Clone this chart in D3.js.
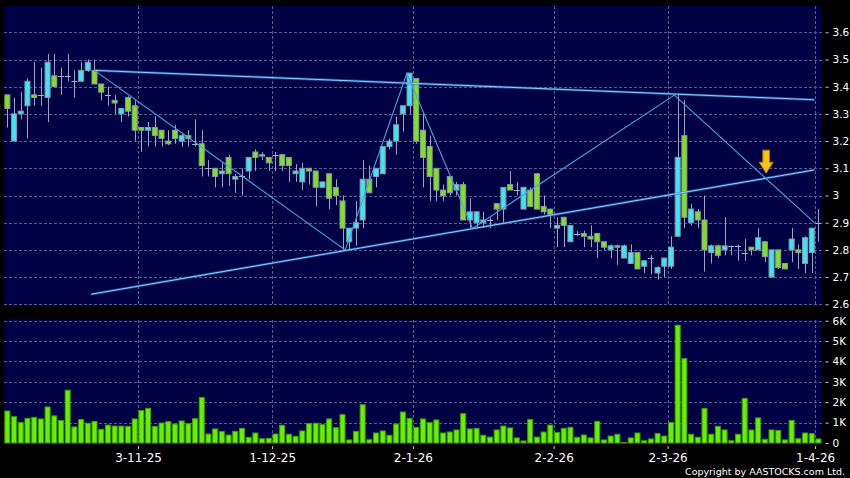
<!DOCTYPE html>
<html lang="en">
<head>
<meta charset="utf-8">
<script src="https://d3js.org/d3.v7.min.js"></script>
<style>
  *{margin:0;padding:0}
  body{background:#000;width:850px;height:478px;overflow:hidden}
  svg{display:block}
  .grid line{stroke:#5e5e8e;stroke-dasharray:3,2;shape-rendering:crispEdges}
  .axis text{fill:#fff;font-family:"DejaVu Sans",sans-serif}
  .axis line{stroke:#ccc}
  .axis path{display:none}
</style>
</head>
<body>
<script>
// daily candles, index 0 = first trading day shown
const opens = [3.37,3.20,3.30,3.33,3.37,3.37,3.36,3.44,3.44,3.44,3.42,3.42,3.46,3.46,3.41,3.37,3.35,3.30,3.36,3.33,
  3.25,3.24,3.25,3.24,3.20,3.24,3.20,3.22,3.19,3.19,3.10,3.10,3.08,3.14,3.06,3.07,3.09,3.16,3.145,3.14,
  3.15,3.15,3.14,3.08,3.05,3.10,3.09,3.03,3.08,3.03,2.98,2.83,2.88,2.91,3.06,3.07,3.08,3.18,3.20,3.30,
  3.33,3.43,3.24,3.18,3.10,3.02,3.07,3.02,3.04,2.91,2.90,2.90,2.91,2.97,2.95,3.04,3.02,2.95,3.02,3.08,
  2.96,2.95,2.88,2.92,2.83,2.86,2.86,2.85,2.86,2.83,2.80,2.815,2.77,2.75,2.79,2.74,2.77,2.715,2.74,2.74,
  2.85,3.22,2.90,2.94,2.91,2.79,2.815,2.80,2.815,2.815,2.79,2.81,2.80,2.83,2.70,2.80,2.75,2.80,2.80,2.75,
  2.79,2.90];
const highs = [3.37,3.36,3.38,3.43,3.49,3.47,3.52,3.52,3.47,3.52,3.46,3.49,3.50,3.50,3.41,3.40,3.37,3.32,3.365,3.35,
  3.25,3.27,3.29,3.24,3.24,3.26,3.23,3.24,3.28,3.24,3.13,3.10,3.12,3.15,3.08,3.10,3.14,3.17,3.16,3.14,
  3.16,3.15,3.14,3.115,3.12,3.10,3.09,3.05,3.08,3.06,3.00,2.88,2.98,3.13,3.11,3.10,3.18,3.21,3.29,3.33,
  3.45,3.43,3.30,3.22,3.10,3.04,3.07,3.05,3.05,2.99,2.94,2.94,2.92,2.97,3.03,3.09,3.05,3.03,3.03,3.08,
  3.00,2.95,2.92,2.92,2.89,2.87,2.87,2.89,2.86,2.83,2.82,2.82,2.82,2.82,2.79,2.76,2.78,2.74,2.77,2.85,
  3.37,3.35,2.97,2.95,3.00,2.82,2.82,2.92,2.815,2.82,2.84,2.81,2.88,2.83,2.80,2.80,2.75,2.88,2.82,2.85,
  2.88,2.95];
const lows = [3.25,3.20,3.28,3.21,3.33,3.33,3.27,3.40,3.37,3.42,3.36,3.42,3.455,3.41,3.35,3.33,3.30,3.27,3.29,3.20,
  3.16,3.18,3.18,3.18,3.185,3.19,3.18,3.18,3.18,3.07,3.07,3.03,3.03,3.035,3.01,3.00,3.06,3.09,3.13,3.09,
  3.09,3.09,3.05,3.05,3.02,3.04,2.96,3.03,2.95,2.965,2.80,2.80,2.815,2.88,3.01,3.03,3.08,3.17,3.15,3.235,
  3.30,3.19,3.03,2.98,2.98,2.98,3.00,3.00,2.91,2.88,2.88,2.88,2.88,2.91,2.90,3.02,3.00,2.95,2.96,2.95,
  2.93,2.88,2.81,2.81,2.83,2.85,2.81,2.81,2.77,2.80,2.77,2.745,2.77,2.75,2.73,2.715,2.71,2.69,2.70,2.73,
  2.85,2.88,2.89,2.88,2.72,2.75,2.77,2.78,2.78,2.76,2.76,2.78,2.80,2.755,2.70,2.73,2.73,2.755,2.73,2.715,
  2.715,2.83];
const closes = [3.32,3.30,3.31,3.42,3.36,3.37,3.49,3.40,3.44,3.44,3.42,3.46,3.49,3.41,3.38,3.37,3.34,3.32,3.31,3.24,
  3.24,3.25,3.22,3.21,3.19,3.21,3.22,3.21,3.19,3.11,3.10,3.07,3.09,3.08,3.07,3.07,3.14,3.14,3.15,3.12,
  3.15,3.11,3.11,3.09,3.10,3.09,3.03,3.05,2.99,3.00,2.88,2.88,2.90,3.06,3.01,3.10,3.18,3.20,3.26,3.33,
  3.45,3.20,3.14,3.07,3.02,3.00,3.01,3.04,2.91,2.94,2.94,2.91,2.91,2.95,3.03,3.02,3.02,3.03,2.96,2.95,
  2.94,2.93,2.89,2.89,2.89,2.86,2.85,2.84,2.83,2.81,2.815,2.81,2.815,2.79,2.73,2.76,2.77,2.735,2.77,2.81,
  3.14,2.92,2.95,2.91,2.80,2.815,2.78,2.815,2.815,2.815,2.79,2.80,2.845,2.775,2.80,2.735,2.73,2.84,2.79,2.845,
  2.88,2.90];
const volumes = [1570,1290,1010,1210,1260,1180,1770,1330,1100,2590,790,1150,970,1060,670,880,830,830,820,1180,
  1590,1700,820,980,1050,930,1080,950,1190,2230,440,690,560,390,570,720,280,490,210,230,
  440,870,430,330,590,950,970,900,1180,750,1390,150,570,1880,160,490,590,380,930,1520,
  1210,770,1180,1000,1130,490,540,640,1440,690,720,380,290,640,830,740,250,100,1150,290,
  540,880,520,720,770,280,390,250,1060,150,340,430,30,250,490,110,200,470,340,1010,
  5780,4140,430,280,1700,430,820,640,110,430,2190,640,1230,180,640,610,150,1110,210,490,
  460,200];

// month ticks: candle index of first trading day, label
const tickIndex = [20,40,61,82,99,121];
const tickLabels = ["3-11-25","1-12-25","2-1-26","2-2-26","2-3-26","1-4-26"];
const priceTicks = [2.6,2.7,2.8,2.9,3.0,3.1,3.2,3.3,3.4,3.5,3.6];
const volTicks = [0,1000,2000,3000,4000,5000,6000];

// hand drawn lines, [candle index, price]
const upperLine = [[13,3.46],[120.4,3.352]];
const lowerLine = [[12.5,2.637],[120.4,3.094]];
const zigzag = [[13,3.46],[50.4,2.80],[59.6,3.449],[69.4,2.879],[99.5,3.369],[120.4,2.90]];
const arrowAt = [113.2,3.082];

const W=850,H=478;
const left=4,right=821.8;
const pTop=6,pBot=305.5,vTop=319.5,vBot=444;

const svg=d3.select('body').append('svg').attr('width',W).attr('height',H);
svg.append('rect').attr('width',W).attr('height',H).attr('fill','#000');

const idx=d3.range(opens.length);
const x=d3.scaleBand().domain(idx).range([left,right]);
const bw=x.bandwidth();
const xc=d3.scaleLinear().domain([-0.5,opens.length-0.5]).range([left,right]);
const y=d3.scaleLinear().domain([2.6,3.6]).range([304.3,32.3]);
const yv=d3.scaleLinear().domain([0,6000]).range([443,320.7]);

// panels
svg.append('rect').attr('x',left).attr('y',pTop).attr('width',right-left).attr('height',pBot-pTop).attr('fill','#000045');
svg.append('rect').attr('x',left).attr('y',vTop).attr('width',right-left).attr('height',vBot-vTop).attr('fill','#000045');

// grid
const grid=svg.append('g').attr('class','grid');
grid.selectAll('.hp').data(priceTicks).enter().append('line')
  .attr('x1',left).attr('x2',right)
  .attr('y1',d=>Math.round(y(d))+0.5).attr('y2',d=>Math.round(y(d))+0.5);
grid.selectAll('.hv').data(volTicks.slice(1)).enter().append('line')
  .attr('x1',left).attr('x2',right)
  .attr('y1',d=>Math.round(yv(d))+0.5).attr('y2',d=>Math.round(yv(d))+0.5);
grid.selectAll('.vp').data(tickIndex).enter().append('line')
  .attr('x1',d=>Math.round(x(d))+0.5).attr('x2',d=>Math.round(x(d))+0.5)
  .attr('y1',pTop).attr('y2',pBot);
grid.selectAll('.vv').data(tickIndex).enter().append('line')
  .attr('x1',d=>Math.round(x(d))+0.5).attr('x2',d=>Math.round(x(d))+0.5)
  .attr('y1',vTop).attr('y2',vBot);

// candles
const bodyW=5, off=(bw-bodyW)/2;
const candles=svg.append('g');
candles.selectAll('.wick').data(idx).enter().append('line')
  .attr('x1',i=>Math.round(x(i)+bw/2)+0.5).attr('x2',i=>Math.round(x(i)+bw/2)+0.5)
  .attr('y1',i=>y(highs[i])).attr('y2',i=>y(lows[i]))
  .attr('stroke','#a4a4b8').attr('stroke-width',1);
candles.selectAll('.body').data(idx.filter(i=>opens[i]!==closes[i])).enter().append('rect')
  .attr('x',i=>x(i)+off).attr('width',bodyW)
  .attr('y',i=>y(Math.max(opens[i],closes[i])))
  .attr('height',i=>Math.max(1,Math.abs(y(opens[i])-y(closes[i]))))
  .attr('fill',i=>closes[i]>opens[i]?'#3fe4f4':'#7fe21e')
  .attr('stroke','#8c98a4').attr('stroke-width',1);
candles.selectAll('.doji').data(idx.filter(i=>opens[i]===closes[i])).enter().append('line')
  .attr('x1',i=>x(i)+off-0.5).attr('x2',i=>x(i)+off+bodyW+0.5)
  .attr('y1',i=>Math.round(y(opens[i]))+0.5).attr('y2',i=>Math.round(y(opens[i]))+0.5)
  .attr('stroke','#b0b0c4').attr('stroke-width',1);

// volume
svg.append('g').selectAll('rect').data(idx).enter().append('rect')
  .attr('x',i=>x(i)+off).attr('width',bodyW)
  .attr('y',i=>yv(volumes[i])).attr('height',i=>yv(0)-yv(volumes[i]))
  .attr('fill','#68f000').attr('stroke','#3f9f00').attr('stroke-width',1);

// drawn lines
const line=d3.line().x(d=>xc(d[0])).y(d=>y(d[1]));
[upperLine,lowerLine].forEach(l=>{
  svg.append('path').attr('d',line(l)).attr('fill','none').attr('stroke','#2f7fc8').attr('stroke-width',2.6).attr('opacity',0.6);
  svg.append('path').attr('d',line(l)).attr('fill','none').attr('stroke','#8ccfff').attr('stroke-width',1);
});
svg.append('path').attr('d',line(zigzag)).attr('fill','none').attr('stroke','#48a4e4').attr('stroke-width',1.1);

// arrow marker
const ax=xc(arrowAt[0]), ay=y(arrowAt[1]);
svg.append('path')
  .attr('d',`M${ax},${ay} L${ax-7},${ay-11} L${ax-3.3},${ay-11} L${ax-3.3},${ay-23} L${ax+3.3},${ay-23} L${ax+3.3},${ay-11} L${ax+7},${ay-11} Z`)
  .attr('fill','#f4c418').attr('stroke','#c07a00').attr('stroke-width',1);

// axes
const yAxis=svg.append('g').attr('class','axis').attr('transform','translate(825.5,0)')
  .call(d3.axisRight(y).tickValues(priceTicks).tickSize(3).tickPadding(4).tickFormat(d3.format('')));
yAxis.selectAll('text').style('font-size','10.5px');
const vAxis=svg.append('g').attr('class','axis').attr('transform','translate(825.5,0)')
  .call(d3.axisRight(yv).tickValues(volTicks).tickSize(3).tickPadding(4).tickFormat(d=>d?d/1000+'K':'0'));
vAxis.selectAll('text').style('font-size','10.5px');

const xAxis=svg.append('g').attr('class','axis').attr('transform','translate(0,446)')
  .call(d3.axisBottom(xc).tickValues(tickIndex.map(d=>d-0.5)).tickSize(3).tickPadding(4).tickFormat((d,i)=>tickLabels[i]));
xAxis.selectAll('text').style('font-size','12px');

svg.append('text').attr('x',845).attr('y',474.5).attr('text-anchor','end')
  .attr('fill','#fff').style('font-family','"DejaVu Sans",sans-serif').style('font-size','9.5px')
  .text('Copyright by AASTOCKS.com Ltd.');
</script>
</body>
</html>
